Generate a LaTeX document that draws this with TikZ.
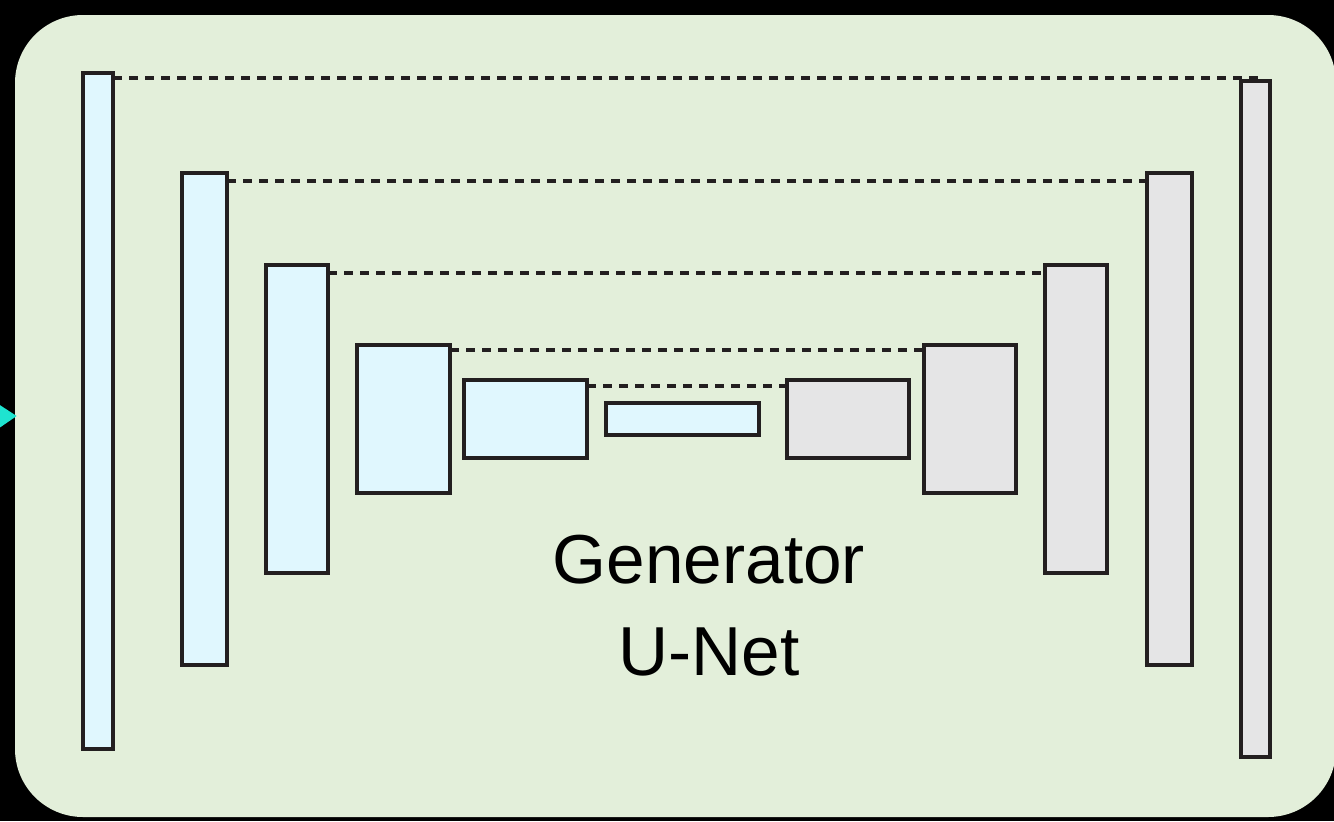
\documentclass[tikz,border=0pt]{standalone}
\usepackage{fontspec}
\setmainfont{Liberation Sans}
\usetikzlibrary{arrows.meta}

\definecolor{panelgreen}{RGB}{227,239,218}
\definecolor{enccyan}{RGB}{224,247,254}
\definecolor{decgray}{RGB}{229,229,230}
\definecolor{edge}{RGB}{35,31,32}
\definecolor{feedcyan}{RGB}{30,228,208}

\begin{document}
\begin{tikzpicture}[x=0.75pt, y=-0.75pt,
  enc/.style={draw=edge, line width=2.6pt, fill=enccyan, inner sep=0pt, outer sep=0pt},
  dec/.style={draw=edge, line width=2.6pt, fill=decgray, inner sep=0pt, outer sep=0pt},
  skip/.style={draw=edge, line width=2.5pt, dash pattern=on 6.75pt off 5.25pt}]
% black page behind the panel
\path[use as bounding box, fill=black] (0,0) rectangle (1334,821);

% rounded panel
\node[fill=panelgreen, rounded corners=51pt, minimum width=990.75pt, minimum height=601.5pt,
      inner sep=0pt] (frame) at (675.5,416) {};

% input arrow coming in from the left
\coordinate (in) at (-60,417);
\draw[-{Triangle[length=15pt, width=19.5pt]}, feedcyan, line width=2pt] (in) -- ([xshift=1.5pt]frame.west);

% encoder bars (name/x/y/width/height)
\foreach \n/\x/\y/\w/\h in {1/98/411/22.5/507, 2/204.5/419/33.75/369, 3/297/419/46.5/231,
                            4/403.5/419/69.75/111, 5/525.5/419/92.25/58.5, 6/682.5/419/114.75/24} {
    \node[enc, minimum width=\w pt, minimum height=\h pt] (e\n) at (\x,\y) {};
}

% decoder bars
\foreach \n/\x/\y/\w/\h in {1/1255.5/419/21.75/507, 2/1169.5/419/33.75/369, 3/1076/419/46.5/231,
                            4/970/419/69/111, 5/848/419/91.5/58.5} {
    \node[dec, minimum width=\w pt, minimum height=\h pt] (d\n) at (\x,\y) {};
}

% skip connections
\draw[skip] ([yshift=-3.75pt]e1.north east) -- ([xshift=3.75pt, yshift=2.25pt]d1.north);
\draw[skip] ([yshift=-6pt]e2.north east) -- ([yshift=-6pt]d2.north west);
\draw[skip] ([yshift=-6pt]e3.north east) -- ([yshift=-6pt]d3.north west);
\draw[skip] ([yshift=-3.75pt]e4.north east) -- ([yshift=-3.75pt]d4.north west);
\draw[skip] ([yshift=-4.5pt]e5.north east) -- ([yshift=-4.5pt]d5.north west);

% label
\node[align=center, font=\fontsize{52}{69}\selectfont] (title) at (709,606) {Generator\\U-Net};
\end{tikzpicture}
\end{document}
